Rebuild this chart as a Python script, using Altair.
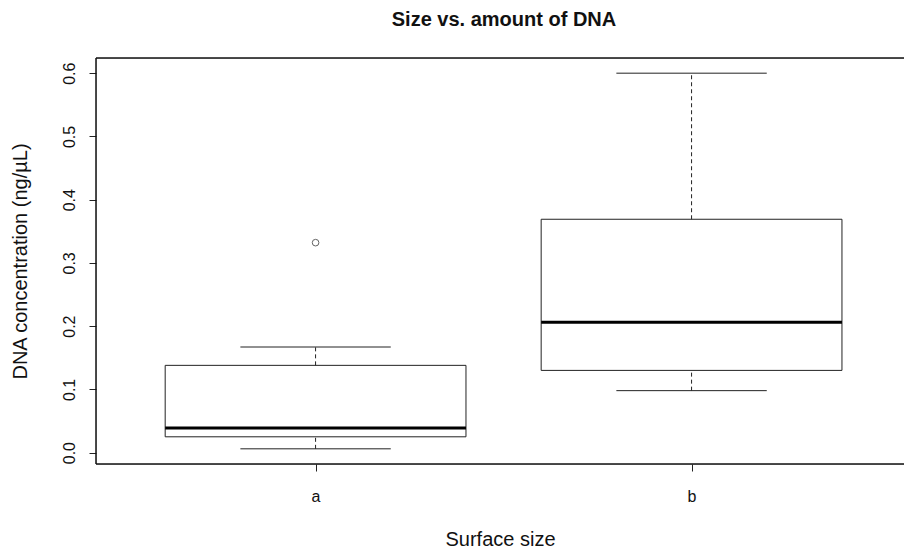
import altair as alt
import pandas as pd

# Box-plot summary per surface size group
groups = ["a", "b"]
positions = [1, 2]
whisker_low = [0.006, 0.098]
q1 = [0.025, 0.130]
medians = [0.039, 0.206]
q3 = [0.138, 0.369]
whisker_high = [0.167, 0.600]

# Points beyond the whiskers
outlier_groups = ["a"]
outlier_values = [0.332]

y_ticks = [0.0, 0.1, 0.2, 0.3, 0.4, 0.5, 0.6]

BOX_HALF = 0.4
CAP_HALF = 0.2
W, H = 808, 406
FONT = "Liberation Sans"
INK = "#222"

stats = pd.DataFrame({
    "group": groups,
    "pos": positions,
    "lo": whisker_low,
    "q1": q1,
    "med": medians,
    "q3": q3,
    "hi": whisker_high,
})
stats["box_l"] = stats["pos"] - BOX_HALF
stats["box_r"] = stats["pos"] + BOX_HALF
stats["cap_l"] = stats["pos"] - CAP_HALF
stats["cap_r"] = stats["pos"] + CAP_HALF

pos_of = dict(zip(groups, positions))
outliers = pd.DataFrame({
    "pos": [pos_of[g] for g in outlier_groups],
    "value": outlier_values,
})

label_expr = " : ".join(
    f"datum.value == {p} ? '{g}'" for g, p in zip(groups, positions)
) + " : ''"

x_scale = alt.Scale(domain=[0.416, 2.565], nice=False, zero=False)
y_scale = alt.Scale(domain=[-0.018, 0.624], nice=False, zero=False)

x_axis = alt.Axis(
    values=positions, labelExpr=label_expr, title="Surface size",
    grid=False, domain=False, tickSize=7, tickColor=INK,
    labelFont=FONT, labelFontSize=16, labelColor="#111", labelPadding=17,
    titleFont=FONT, titleFontSize=20, titleFontWeight="normal",
    titleColor="#111", titlePadding=25,
)
y_axis = alt.Axis(
    values=y_ticks, format=".1f", title="DNA concentration (ng/\u00b5L)",
    grid=False, domain=False, tickSize=7, tickColor=INK,
    labelAngle=270, labelAlign="center", labelBaseline="bottom",
    labelFont=FONT, labelFontSize=16, labelColor="#111", labelPadding=12,
    titleFont=FONT, titleFontSize=20, titleFontWeight="normal",
    titleColor="#111", titlePadding=31,
)

base = alt.Chart(stats)

boxes = base.mark_rect(fill="white", stroke=INK, strokeWidth=1).encode(
    x=alt.X("box_l:Q", scale=x_scale, axis=x_axis),
    x2="box_r:Q",
    y=alt.Y("q1:Q", scale=y_scale, axis=y_axis),
    y2="q3:Q",
)

whisk_up = base.mark_rule(color=INK, strokeWidth=1, strokeDash=[4, 3]).encode(
    x=alt.X("pos:Q", scale=x_scale), y=alt.Y("q3:Q", scale=y_scale), y2="hi:Q"
)
whisk_down = base.mark_rule(color=INK, strokeWidth=1, strokeDash=[4, 3]).encode(
    x=alt.X("pos:Q", scale=x_scale), y=alt.Y("lo:Q", scale=y_scale), y2="q1:Q"
)
cap_up = base.mark_rule(color=INK, strokeWidth=1).encode(
    x=alt.X("cap_l:Q", scale=x_scale), x2="cap_r:Q", y=alt.Y("hi:Q", scale=y_scale)
)
cap_down = base.mark_rule(color=INK, strokeWidth=1).encode(
    x=alt.X("cap_l:Q", scale=x_scale), x2="cap_r:Q", y=alt.Y("lo:Q", scale=y_scale)
)
median_lines = base.mark_rule(color="black", strokeWidth=3).encode(
    x=alt.X("box_l:Q", scale=x_scale), x2="box_r:Q", y=alt.Y("med:Q", scale=y_scale)
)

outlier_pts = alt.Chart(outliers).mark_point(
    shape="circle", filled=False, color=INK, size=44, strokeWidth=1
).encode(
    x=alt.X("pos:Q", scale=x_scale), y=alt.Y("value:Q", scale=y_scale)
)

# Plot frame (open on the right, where the plot runs past the page edge)
frame_top = alt.Chart(stats).mark_rule(color="#111", strokeWidth=1).encode(
    x=alt.value(0), x2=alt.value(W + 10), y=alt.value(0)
)
frame_left = alt.Chart(stats).mark_rule(color="#111", strokeWidth=1).encode(
    x=alt.value(0), y=alt.value(0), y2=alt.value(H)
)
frame_bottom = alt.Chart(stats).mark_rule(color="#111", strokeWidth=1).encode(
    x=alt.value(0), x2=alt.value(W + 10), y=alt.value(H)
)

chart = alt.layer(
    boxes, whisk_up, whisk_down, cap_up, cap_down, median_lines, outlier_pts,
    frame_top, frame_left, frame_bottom,
).properties(
    width=W,
    height=H,
    title=alt.TitleParams(
        "Size vs. amount of DNA", font=FONT, fontSize=20, fontWeight="bold",
        color="#111", anchor="middle", offset=28, dx=4,
    ),
    autosize=alt.AutoSizeParams(type="none"),
    padding={"left": 96, "top": 58, "right": 0, "bottom": 86},
).configure_view(stroke=None).configure(background="white")

chart.save("out.html", embed_options={"renderer": "svg", "actions": False})
